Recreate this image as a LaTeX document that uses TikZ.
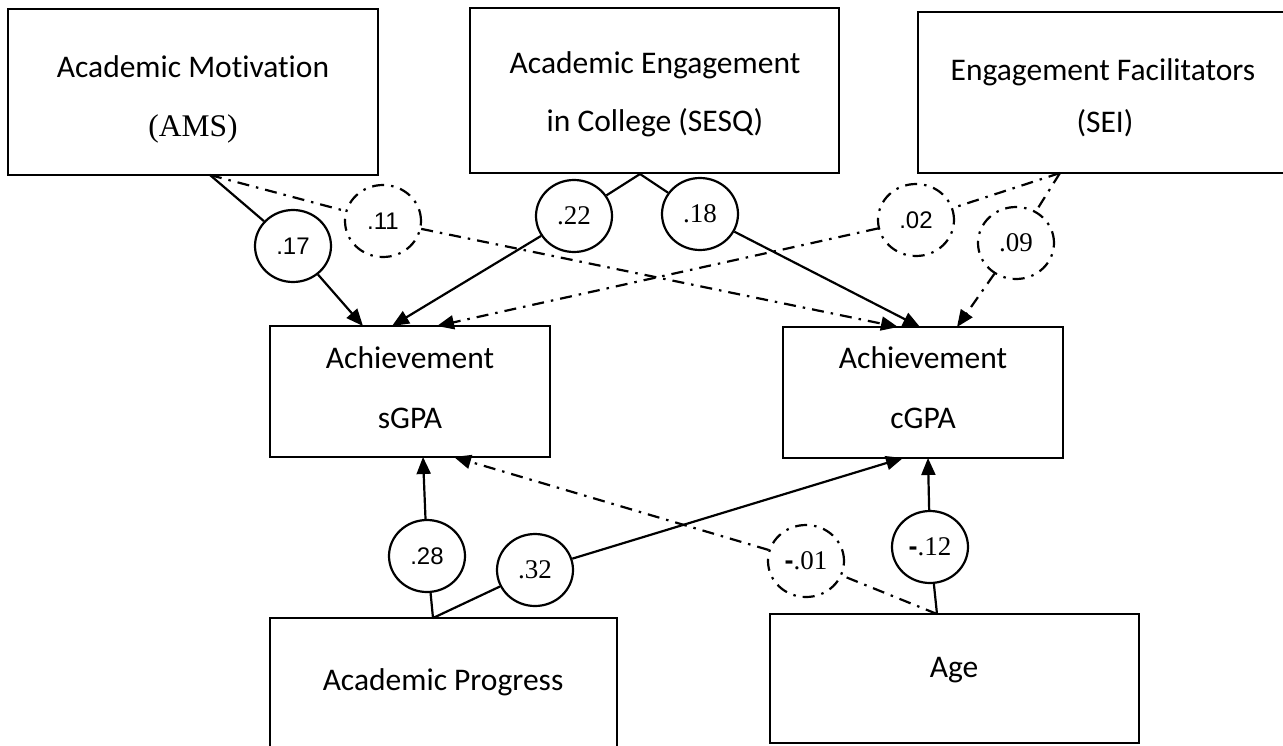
\documentclass[tikz,border=0pt]{standalone}
\usepackage{fontspec}
\setmainfont{Carlito}[Ligatures=NoCommon]
\newfontfamily\tnr{Liberation Serif}
\newfontfamily\arial{Liberation Sans}
\usetikzlibrary{arrows.meta,shapes.geometric}
\begin{document}
\begin{tikzpicture}[x=1pt,y=-1pt,
  box/.style={draw, line width=1.2pt, inner sep=0pt, rectangle},
  txt/.style={anchor=base, inner sep=0pt, font=\fontsize{31.5}{36}\selectfont},
  coef/.style={draw, ellipse, line width=2.2pt, fill=white, minimum width=76pt, minimum height=72pt, inner sep=0pt},
  dd/.style={dash pattern=on 12pt off 7pt on 2.5pt off 7pt},
  conn/.style={line width=2.2pt},
  arr/.style={line width=2.2pt, -{Triangle[length=17pt,width=14pt]}},
  sn/.style={font=\arial\fontsize{24}{28}\selectfont},
  tn/.style={font=\tnr\fontsize{27}{30}\selectfont}]
\useasboundingbox (0,0) rectangle (1283,745);
\clip (0,0) rectangle (1283,745);

% boxes
\node[box, minimum width=370pt, minimum height=166pt] (ams) at (193,92) {};
\node[box, minimum width=369pt, minimum height=165pt] (sesq) at (654.5,90.5) {};
\node[box, minimum width=370pt, minimum height=161pt] (sei) at (1103,92.5) {};
\node[box, minimum width=280pt, minimum height=131pt] (sgpa) at (410,391.5) {};
\node[box, minimum width=280pt, minimum height=131pt] (cgpa) at (923,392.5) {};
\node[box, minimum width=347pt, minimum height=162pt] (ap) at (443.5,699) {};
\node[box, minimum width=369pt, minimum height=129pt] (age) at (954.5,678.5) {};

% box texts
\node[txt] (amsA) at (193,77) {Academic Motivation};
\node[txt, font=\tnr\fontsize{31.5}{36}\selectfont] (amsB) at (193,136) {(AMS)};
\node[txt] (sesqA) at (655,73) {Academic Engagement};
\node[txt] (sesqB) at (655,131) {in College (SESQ)};
\node[txt] (seiA) at (1103,80) {Engagement Facilitators};
\node[txt] (seiB) at (1105,132) {(SEI)};
\node[txt] (sgpaA) at (410,368) {Achievement};
\node[txt] (sgpaB) at (410,428) {sGPA};
\node[txt] (cgpaA) at (923,368) {Achievement};
\node[txt] (cgpaB) at (923,428) {cGPA};
\node[txt] (apA) at (443,690) {Academic Progress};
\node[txt] (ageA) at (954,677) {Age};

% connector end points
\coordinate (amsO) at (210,175);
\coordinate (sesqO) at (640,174);
\coordinate (seiO) at (1060,173);
\coordinate (apO) at (433,618);
\coordinate (ageO) at (937,614);
\coordinate (s1) at (363,326);
\coordinate (s2) at (392,326);
\coordinate (s3) at (437,326);
\coordinate (k1) at (898,327);
\coordinate (k2) at (920,327);
\coordinate (k3) at (957,327);
\coordinate (s4) at (423,457);
\coordinate (s5) at (454,457);
\coordinate (k4) at (903,458);
\coordinate (k5) at (928,458);

% coefficient ellipses
\node[coef, sn] (c17) at (293,246) {.17};
\node[coef, sn, dd] (c11) at (383,221) {.11};
\node[coef, tn] (c22) at (574,216) {.22};
\node[coef, tn] (c18) at (700,214) {.18};
\node[coef, sn, dd] (c02) at (916,220) {.02};
\node[coef, tn, dd] (c09) at (1016,243) {.09};
\node[coef, sn] (c28) at (427,556) {.28};
\node[coef, tn] (c32) at (535,570) {.32};
\node[coef, tn, dd] (c01) at (806,561) {{\arial\bfseries -}.01};
\node[coef, tn] (c12) at (930,547) {{\arial\bfseries -}.12};

% connectors
\draw[conn] (amsO) -- (c17);
\draw[arr] (c17) -- (s1);
\draw[conn, dd] (amsO) -- (c11);
\draw[arr, dd] (c11) -- (k1);
\draw[conn] (sesqO) -- (c22);
\draw[arr] (c22) -- (s2);
\draw[conn] (sesqO) -- (c18);
\draw[arr] (c18) -- (k2);
\draw[conn, dd] (seiO) -- (c02);
\draw[arr, dd] (c02) -- (s3);
\draw[conn, dd] (seiO) -- (c09);
\draw[arr, dd] (c09) -- (k3);
\draw[conn] (apO) -- (c28);
\draw[arr] (c28) -- (s4);
\draw[conn] (apO) -- (c32);
\draw[arr] (c32) -- (k4);
\draw[conn, dd] (ageO) -- (c01);
\draw[arr, dd] (c01) -- (s5);
\draw[conn] (ageO) -- (c12);
\draw[arr] (c12) -- (k5);
\end{tikzpicture}
\end{document}
